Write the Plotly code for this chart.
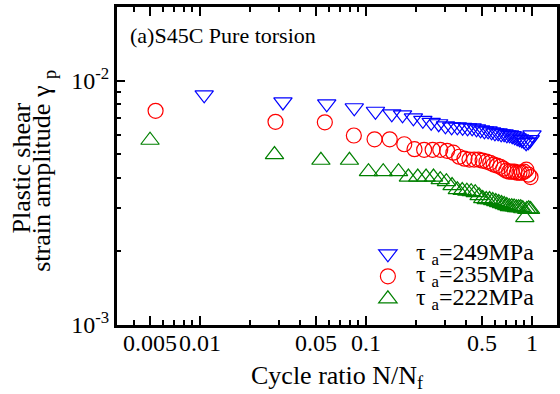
import plotly.graph_objects as go

# ---- data ----
blue_x = [0.0106, 0.0316, 0.058, 0.085, 0.114, 0.143, 0.166, 0.193, 0.22, 0.247,
          0.274, 0.301, 0.328, 0.355, 0.382, 0.409, 0.436, 0.463, 0.49, 0.517,
          0.544, 0.571, 0.598, 0.625, 0.652, 0.679, 0.706, 0.733, 0.76, 0.787,
          0.814, 0.841, 0.868, 0.895, 0.922, 0.949, 0.976, 1.0]
blue_y = [0.00874, 0.00818, 0.00803, 0.00774, 0.00749, 0.00731, 0.00724, 0.00704, 0.00688, 0.00675,
          0.00666, 0.00653, 0.00647, 0.00647, 0.00644, 0.00641, 0.00641, 0.00635, 0.00629, 0.00623,
          0.00623, 0.00617, 0.00611, 0.00611, 0.00606, 0.00606, 0.00600, 0.00600, 0.00595, 0.00589,
          0.00583, 0.00578, 0.00573, 0.00567, 0.00557, 0.00562, 0.00573, 0.00600]

red_x = [0.0054, 0.0285, 0.0565, 0.0845, 0.1126, 0.139, 0.17, 0.196, 0.224, 0.252,
         0.28, 0.308, 0.336, 0.364, 0.392, 0.42, 0.448, 0.476, 0.504, 0.532,
         0.56, 0.588, 0.616, 0.644, 0.672, 0.70, 0.728, 0.756, 0.784, 0.812,
         0.84, 0.868, 0.896, 0.924, 0.952, 0.98]
red_y = [0.00752, 0.00678, 0.00675, 0.00596, 0.00575, 0.00575, 0.00549, 0.00524, 0.00521, 0.00521,
         0.00521, 0.00516, 0.00507, 0.00488, 0.00479, 0.00475, 0.00475, 0.00475, 0.00470, 0.00466,
         0.00461, 0.00453, 0.00449, 0.00444, 0.00436, 0.00428, 0.00424, 0.00424, 0.00424, 0.00420,
         0.00420, 0.00420, 0.00424, 0.00432, 0.00412, 0.00403]

green_x = [0.005, 0.0281, 0.0535, 0.0795, 0.1035, 0.127, 0.157, 0.18, 0.205, 0.23,
           0.255, 0.28, 0.305, 0.33, 0.355, 0.38, 0.405, 0.43, 0.455, 0.48,
           0.505, 0.53, 0.555, 0.58, 0.605, 0.63, 0.655, 0.68, 0.705, 0.73,
           0.755, 0.78, 0.805, 0.83, 0.855, 0.88, 0.905, 0.93, 0.955, 0.98]
green_y = [0.00570, 0.00498, 0.00472, 0.00472, 0.00424, 0.00424, 0.00424, 0.00403, 0.00403, 0.00403,
           0.00403, 0.00393, 0.00386, 0.00372, 0.00358, 0.00355, 0.00353, 0.00351, 0.00348, 0.00338,
           0.00329, 0.00326, 0.00326, 0.00323, 0.00320, 0.00317, 0.00314, 0.00311, 0.00308, 0.00305,
           0.00305, 0.00304, 0.00302, 0.00302, 0.00302, 0.00299, 0.00275, 0.00297, 0.00299, 0.00297]

series_names = ["τ <sub>a</sub>=249MPa", "τ <sub>a</sub>=235MPa", "τ <sub>a</sub>=222MPa"]

x_tickvals = [0.005, 0.01, 0.05, 0.1, 0.5, 1]
x_ticktext = ["0.005", "0.01", "0.05", "0.1", "0.5", "1"]
x_minor = [0.004, 0.006, 0.007, 0.008, 0.009, 0.02, 0.03, 0.04, 0.06, 0.07, 0.08, 0.09,
           0.2, 0.3, 0.4, 0.6, 0.7, 0.8, 0.9]
y_tickvals = [0.001, 0.01]
y_ticktext = ["10<sup>-3</sup>", "10<sup>-2</sup>"]
y_minor = [0.002, 0.003, 0.004, 0.005, 0.006, 0.007, 0.008, 0.009]

FONT = "Liberation Serif, Times New Roman, serif"

fig = go.Figure()
styles = [("triangle-down-open", "#0000ff", 16),
          ("circle-open", "#ff0000", 15),
          ("triangle-up-open", "#008000", 16)]
for (xs, ys), name, (sym, col, sz) in zip([(blue_x, blue_y), (red_x, red_y), (green_x, green_y)],
                                          series_names, styles):
    fig.add_trace(go.Scatter(
        x=xs, y=ys, mode="markers",
        name='<span style="font-size:24px">' + name + '</span>',
        marker=dict(symbol=sym, size=sz, color=col, line=dict(color=col, width=1.2)),
    ))

axis_common = dict(
    showline=True, linewidth=3, linecolor="black", mirror="ticks",
    ticks="inside", tickwidth=1.5, tickcolor="black",
    showgrid=False, zeroline=False, automargin=False,
    tickfont=dict(family=FONT, size=24, color="black"),
)

fig.update_xaxes(type="log", range=[-2.5, 0.1506],
                 tickmode="array", tickvals=x_tickvals, ticktext=x_ticktext, ticklen=9,
                 tickangle=0, ticklabelstandoff=-6,
                 minor=dict(tickvals=x_minor, ticks="inside", ticklen=5, tickwidth=1.5,
                            tickcolor="black", showgrid=False),
                 **axis_common)
fig.update_yaxes(type="log", range=[-3, -1.69897],
                 tickmode="array", tickvals=y_tickvals, ticktext=y_ticktext, ticklen=8,
                 minor=dict(tickvals=y_minor, ticks="inside", ticklen=4, tickwidth=1.5,
                            tickcolor="black", showgrid=False),
                 **axis_common)

fig.update_layout(
    width=560, height=394,
    margin=dict(l=117, r=3, t=7, b=69, autoexpand=False),
    plot_bgcolor="white", paper_bgcolor="white",
    font=dict(family=FONT, color="black"),
    showlegend=True,
    legend=dict(x=0.552, y=0.275, xanchor="left", yanchor="top",
                bgcolor="rgba(0,0,0,0)", borderwidth=0, itemwidth=46,
                font=dict(family=FONT, size=15, color="black"),
                tracegroupgap=0),
    annotations=[
        dict(text="(a)S45C Pure torsion", xref="paper", yref="paper",
             x=0.025, y=0.91, xanchor="left", yanchor="middle", showarrow=False,
             font=dict(family=FONT, size=22, color="black")),
        dict(text="Plastic shear", xref="paper", yref="paper",
             x=-0.216, y=0.495, xanchor="center", yanchor="middle", textangle=-90,
             showarrow=False, font=dict(family=FONT, size=26, color="black")),
        dict(text="strain amplitude γ <sub>p</sub>", xref="paper", yref="paper",
             x=-0.168, y=0.485, xanchor="center", yanchor="middle", textangle=-90,
             showarrow=False, font=dict(family=FONT, size=26, color="black")),
        dict(text="Cycle ratio N/N<sub>f</sub>", xref="paper", yref="paper",
             x=0.501, y=-0.162, xanchor="center", yanchor="middle",
             showarrow=False, font=dict(family=FONT, size=26, color="black")),
    ],
)

fig.write_html("out.html", config={"displayModeBar": False},
               post_script="document.body.style.margin='0px';")
